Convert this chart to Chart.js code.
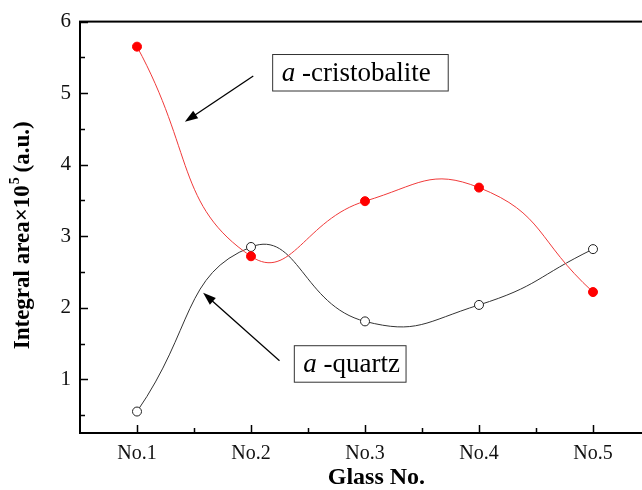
<!DOCTYPE html>
<html>
<head>
<meta charset="utf-8">
<script src="https://cdn.jsdelivr.net/npm/chart.js@4/dist/chart.umd.min.js"></script>
<style>
  html, body { margin: 0; padding: 0; background: #fff; overflow: hidden; }
  #wrap { width: 660px; height: 490px; }
</style>
</head>
<body>
<div id="wrap"><canvas id="glassChart"></canvas></div>
<script>
const glassNo = ['No.1', 'No.2', 'No.3', 'No.4', 'No.5'];
const xPos = [1, 2, 3, 4, 5];
const cristobalite = [5.65, 2.72, 3.49, 3.68, 2.22];
const quartz = [0.55, 2.85, 1.81, 2.04, 2.82];
const yTicks = [1, 2, 3, 4, 5, 6];

const serif = '"Liberation Serif", "DejaVu Serif", serif';

function pts(vals) {
    return xPos.map((x, i) => ({ x: x, y: vals[i] }));
}

function arrow(ctx, x1, y1, x2, y2) {
    var ang = Math.atan2(y2 - y1, x2 - x1);
    var len = 13, half = 4.5;
    ctx.beginPath();
    ctx.moveTo(x1, y1);
    ctx.lineTo(x2 - Math.cos(ang) * len * 0.8, y2 - Math.sin(ang) * len * 0.8);
    ctx.stroke();
    ctx.beginPath();
    ctx.moveTo(x2, y2);
    ctx.lineTo(x2 - Math.cos(ang) * len + Math.sin(ang) * half, y2 - Math.sin(ang) * len - Math.cos(ang) * half);
    ctx.lineTo(x2 - Math.cos(ang) * len - Math.sin(ang) * half, y2 - Math.sin(ang) * len + Math.cos(ang) * half);
    ctx.closePath();
    ctx.fill();
}

function labelBox(ctx, xs, ys, x0, x1, y0, y1, rest) {
    var l = xs.getPixelForValue(x0), r = xs.getPixelForValue(x1);
    var t = ys.getPixelForValue(y0), b = ys.getPixelForValue(y1);
    ctx.lineWidth = 1;
    ctx.strokeStyle = '#333';
    ctx.strokeRect(l, t, r - l, b - t);
    ctx.fillStyle = '#000';
    ctx.textBaseline = 'middle';
    ctx.textAlign = 'left';
    var cy = (t + b) / 2 + 1;
    ctx.font = 'italic 27px ' + serif;
    var tx = l + 9;
    ctx.fillText('a', tx, cy);
    tx += ctx.measureText('a').width;
    ctx.font = '27px ' + serif;
    ctx.fillText(rest, tx, cy);
}

const decor = {
    id: 'decor',
    beforeDatasetsDraw(chart) {
        var ctx = chart.ctx, a = chart.chartArea;
        var xs = chart.scales.x, ys = chart.scales.y;
        ctx.save();
        ctx.strokeStyle = '#000';
        ctx.lineWidth = 2;
        ctx.strokeRect(a.left, a.top, a.right - a.left, a.bottom - a.top);
        ctx.lineWidth = 1.5;
        ctx.beginPath();
        for (var v = 0.5; v <= 6; v += 0.5) {
            var py = Math.round(ys.getPixelForValue(v)) + 0.5;
            if (py > a.bottom - 1) continue;
            var L = (v % 1 === 0) ? 8 : 5;
            ctx.moveTo(a.left, py);
            ctx.lineTo(a.left + L, py);
        }
        for (var u = 1; u <= 5; u += 0.5) {
            var px = Math.round(xs.getPixelForValue(u)) + 0.5;
            var Lx = (u % 1 === 0) ? 8 : 5;
            ctx.moveTo(px, a.bottom);
            ctx.lineTo(px, a.bottom - Lx);
        }
        ctx.stroke();
        ctx.restore();
    },
    afterDraw(chart) {
        var ctx = chart.ctx, a = chart.chartArea;
        var xs = chart.scales.x, ys = chart.scales.y;
        ctx.save();
        // axis titles
        ctx.fillStyle = '#000';
        ctx.textAlign = 'center';
        ctx.textBaseline = 'middle';
        ctx.font = 'bold 24px ' + serif;
        ctx.fillText('Glass No.', xs.getPixelForValue(3.1), 478);

        ctx.translate(23, (a.top + a.bottom) / 2 + 8);
        ctx.rotate(-Math.PI / 2);
        var p1 = 'Integral area\u00d710', p2 = '5', p3 = ' (a.u.)';
        ctx.font = 'bold 23px ' + serif;
        var w1 = ctx.measureText(p1).width, w3 = ctx.measureText(p3).width;
        ctx.font = 'bold 14px ' + serif;
        var w2 = ctx.measureText(p2).width;
        var sx = -(w1 + w2 + w3) / 2;
        ctx.textAlign = 'left';
        ctx.font = 'bold 23px ' + serif;
        ctx.fillText(p1, sx, 0);
        ctx.font = 'bold 14px ' + serif;
        ctx.fillText(p2, sx + w1 + 1, -8);
        ctx.font = 'bold 23px ' + serif;
        ctx.fillText(p3, sx + w1 + w2, 0);
        ctx.restore();

        ctx.save();
        labelBox(ctx, xs, ys, 2.19, 3.73, 5.54, 5.03, ' -cristobalite');
        labelBox(ctx, xs, ys, 2.38, 3.36, 1.47, 0.96, ' -quartz');
        ctx.strokeStyle = '#000';
        ctx.fillStyle = '#000';
        ctx.lineWidth = 1.3;
        arrow(ctx, xs.getPixelForValue(2.02), ys.getPixelForValue(5.24),
            xs.getPixelForValue(1.42), ys.getPixelForValue(4.60));
        arrow(ctx, xs.getPixelForValue(2.25), ys.getPixelForValue(1.26),
            xs.getPixelForValue(1.58), ys.getPixelForValue(2.21));
        ctx.restore();
    }
};

var ctx = document.getElementById('glassChart').getContext('2d');
new Chart(ctx, {
    type: 'line',
    data: {
        datasets: [{
            label: 'a-cristobalite',
            data: pts(cristobalite),
            borderColor: '#f03a3a',
            borderWidth: 1,
            tension: 0.5,
            pointRadius: 4.5,
            pointBackgroundColor: '#f00',
            pointBorderColor: '#f00',
            pointBorderWidth: 1
        }, {
            label: 'a-quartz',
            data: pts(quartz),
            borderColor: '#333',
            borderWidth: 1,
            tension: 0.5,
            pointRadius: 4.5,
            pointBackgroundColor: '#fff',
            pointBorderColor: '#222',
            pointBorderWidth: 1
        }]
    },
    options: {
        responsive: true,
        maintainAspectRatio: false,
        animation: false,
        layout: { padding: { top: 17, right: 10, left: 0, bottom: 0 } },
        plugins: {
            legend: { display: false },
            tooltip: { enabled: false }
        },
        scales: {
            x: {
                type: 'linear',
                min: 0.5,
                max: 5.5,
                grid: { display: false, drawTicks: false },
                border: { display: false },
                afterBuildTicks: function (s) { s.ticks = xPos.map(v => ({ value: v })); },
                afterFit: function (s) { s.height = 57; },
                ticks: {
                    padding: 9,
                    maxRotation: 0,
                    color: '#111',
                    font: { family: serif, size: 20 },
                    callback: function (v) { return glassNo[xPos.indexOf(v)]; }
                }
            },
            y: {
                min: 0.25,
                max: 6,
                grid: { display: false, drawTicks: false },
                border: { display: false },
                afterBuildTicks: function (s) { s.ticks = yTicks.map(v => ({ value: v })); },
                afterFit: function (s) { s.width = 80; },
                ticks: {
                    padding: 9,
                    color: '#111',
                    font: { family: serif, size: 21 }
                }
            }
        }
    },
    plugins: [decor]
});
</script>
</body>
</html>
